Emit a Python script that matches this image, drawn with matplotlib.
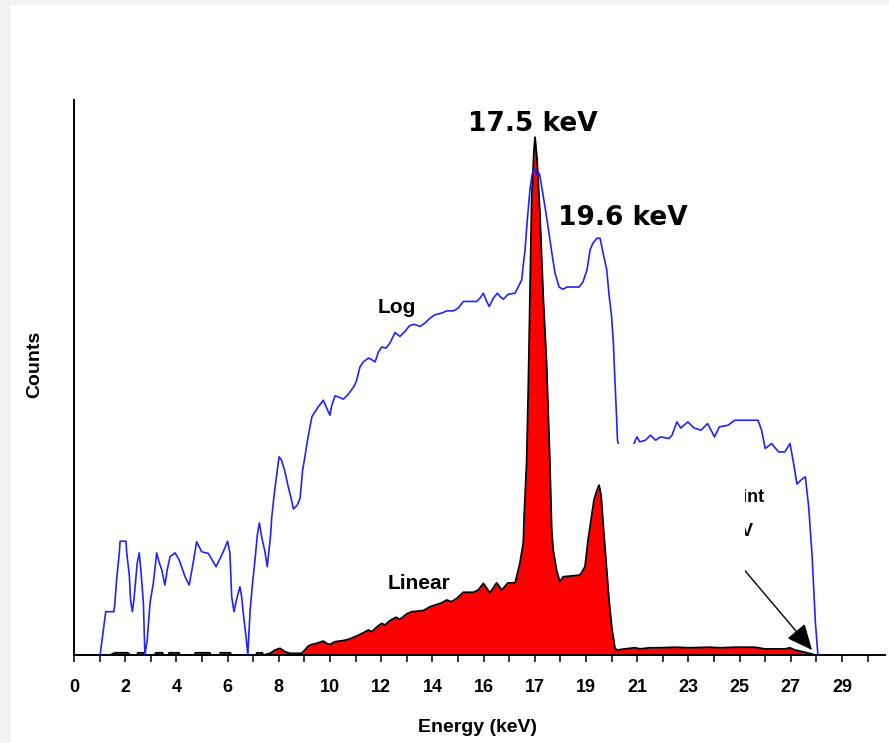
import matplotlib.pyplot as plt
from matplotlib.patches import Rectangle

# channel position on the (non-uniform) energy axis, counts in % of full scale
log_x = [1.02, 1.12, 1.24, 1.56, 1.60, 1.67, 1.77, 1.80, 2.03, 2.06, 2.16, 2.21, 2.28, 2.34,
         2.47, 2.55, 2.62, 2.71, 2.77, 2.86, 2.97, 3.10, 3.23, 3.32, 3.43, 3.55, 3.64, 3.75,
         3.95, 4.11, 4.34, 4.50, 4.64, 4.79, 4.99, 5.25, 5.55, 5.83, 6.00, 6.09, 6.16, 6.25,
         6.36, 6.48, 6.55, 6.61, 6.72, 6.79, 6.88, 6.98, 7.07, 7.16, 7.24, 7.33, 7.46, 7.55,
         7.63, 7.68, 7.72, 7.81, 7.89, 8.01, 8.11, 8.24, 8.37, 8.50, 8.57, 8.72, 8.83, 8.93,
         9.02, 9.11, 9.22, 9.29, 9.41, 9.54, 9.74, 9.87, 10.00, 10.07, 10.20, 10.32, 10.52,
         10.68, 10.78, 10.95, 11.04, 11.17, 11.30, 11.50, 11.60, 11.76, 11.89, 12.02, 12.19,
         12.34, 12.54, 12.73, 12.93, 13.10, 13.28, 13.52, 13.71, 13.91, 14.10, 14.36, 14.56,
         14.82, 15.01, 15.21, 15.73, 15.86, 15.99, 16.12, 16.22, 16.38, 16.54, 16.64, 16.77,
         16.96, 17.23, 17.36, 17.49, 17.55, 17.62, 17.70, 17.81, 17.89, 17.99, 18.09, 18.18,
         18.28, 18.40, 18.52, 18.67, 18.79, 18.95, 19.10, 19.26, 19.73, 19.88, 20.04, 20.16,
         20.27, 20.43, 20.55, 20.66, 20.81, 20.90, 21.00, 21.07, 21.13, 21.20, 21.23, 21.29,
         21.84, 21.90, 21.99, 22.10, 22.32, 22.52, 22.72, 22.91, 23.24, 23.36, 23.55, 23.70,
         23.98, 24.22, 24.49, 24.75, 25.02, 25.21, 25.55, 25.81, 26.72, 26.86, 27.00, 27.25,
         27.52, 27.77, 27.97, 28.11, 28.24, 28.44, 28.57, 28.70, 28.83, 28.96, 29.06]
log_y = [0.0, 3.6, 7.8, 7.8, 9.6, 13.9, 18.4, 20.5, 20.5, 18.4, 14.4, 9.9, 7.8, 9.9,
         16.6, 18.4, 14.8, 9.4, 0.0, 2.7, 9.4, 13.0, 18.4, 16.8, 15.3, 12.6, 15.3, 17.7,
         18.4, 17.1, 14.1, 12.6, 16.2, 20.4, 18.6, 18.3, 15.9, 18.6, 20.5, 18.4, 10.5, 7.8,
         10.2, 12.3, 10.5, 7.6, 3.3, 0.0, 8.1, 13.2, 17.1, 21.6, 23.8, 21.3, 18.6, 15.9,
         19.5, 21.6, 24.6, 28.5, 31.5, 35.7, 35.1, 33.0, 30.3, 27.9, 26.3, 27.0, 28.2, 33.3,
         35.7, 38.4, 41.1, 42.9, 43.8, 44.7, 45.9, 44.5, 43.2, 45.0, 46.7, 46.5, 46.1,
         46.8, 47.4, 48.5, 49.5, 51.9, 52.8, 53.5, 53.3, 52.8, 54.6, 55.5, 55.3,
         56.2, 58.1, 57.4, 58.3, 59.3, 59.6, 59.2, 59.8, 60.7, 61.3, 61.6, 62.0,
         62.0, 62.5, 63.7, 63.7, 64.3, 65.2, 63.7, 62.8, 64.3, 65.2, 64.6, 64.1,
         65.0, 65.2, 66.4, 67.6, 70.3, 73.0, 78.0, 83.8, 86.5, 87.7, 86.5, 86.8,
         84.1, 80.7, 77.1, 72.3, 68.8, 66.3, 65.9, 66.3, 66.3, 67.2, 69.4, 73.0,
         74.2, 75.1, 75.1, 72.6, 69.4, 64.9, 61.0, 56.2, 49.5, 42.3, 38.7, 37.5,
         37.5, 38.4, 39.3, 38.4, 38.7, 39.6, 38.7, 39.3, 39.0, 39.6, 42.0, 40.9,
         42.0, 40.9, 40.5, 41.7, 39.3, 41.1, 41.4, 42.3, 42.3, 40.5, 37.2, 38.1,
         36.6, 36.6, 38.1, 34.5, 30.8, 31.7, 32.1, 26.6, 18.1, 5.9, 0.0]

lin_x = [0.0, 1.41, 1.60, 2.10, 2.20, 2.45, 2.50, 2.70, 2.75, 3.15, 3.20, 3.45, 3.50, 3.68,
         3.72, 4.10, 4.15, 4.70, 4.75, 5.30, 5.35, 5.68, 5.72, 6.10, 6.15, 7.10, 7.15, 7.35,
         7.40, 7.66, 7.85, 8.05, 8.24, 8.44, 8.89, 9.02, 9.15, 9.29, 9.48, 9.74, 9.87, 10.00,
         10.20, 10.52, 10.71, 11.04, 11.30, 11.50, 11.63, 11.82, 12.02, 12.15, 12.34, 12.58,
         12.73, 13.00, 13.19, 13.64, 13.91, 14.17, 14.36, 14.56, 14.75, 14.95, 15.21, 15.60,
         15.79, 15.99, 16.25, 16.51, 16.71, 16.95, 17.23, 17.29, 17.42, 17.55, 17.59, 17.68,
         17.75, 17.81, 17.88, 17.97, 18.01, 18.09, 18.20, 18.33, 18.46, 18.53, 18.59, 18.66,
         18.72, 18.85, 18.98, 19.11, 19.77, 19.96, 20.08, 20.31,
         20.43, 20.51, 20.59, 20.66, 20.78, 20.90, 21.02, 21.13, 21.21, 21.52, 21.91, 22.11,
         22.50, 22.89, 23.48, 24.06, 24.84, 25.23, 25.82, 26.60, 26.99, 27.77, 27.97, 28.16,
         28.55, 28.95]
lin_y = [0.0, 0.0, 0.4, 0.4, 0.0, 0.0, 0.4, 0.4, 0.0, 0.0, 0.4, 0.4, 0.0, 0.0,
         0.4, 0.4, 0.0, 0.0, 0.4, 0.4, 0.0, 0.0, 0.4, 0.4, 0.0, 0.0, 0.4, 0.4,
         0.0, 0.3, 0.9, 1.2, 0.6, 0.3, 0.3, 0.9, 1.6, 1.9, 2.1, 2.5, 2.1, 1.9,
         2.4, 2.6, 2.8, 3.4, 4.0, 4.5, 4.2, 5.0, 5.7, 5.4, 6.2, 6.8,
         6.4, 7.4, 7.8, 8.0, 8.7, 9.1, 9.4, 9.9, 9.6, 10.2, 11.3, 11.3,
         11.7, 12.9, 11.2, 13.0, 11.7, 13.0, 13.0, 14.1, 16.6, 20.2, 25.6, 34.6,
         49.0, 64.5, 82.5, 91.0, 93.3, 89.2, 79.6, 64.5, 52.6, 42.9, 34.6, 22.5,
         18.9, 15.3, 13.2, 14.1, 14.4, 15.9, 20.7, 27.9,
         29.7, 30.6, 28.8, 24.3, 17.1, 9.9, 4.5, 1.3, 0.9, 1.1, 1.3, 1.1,
         1.3, 1.3, 1.4, 1.3, 1.4, 1.3, 1.4, 1.4, 1.1, 1.1, 1.3, 0.9,
         0.5, 0.0]

tick_pos = list(range(0, 32))
tick_labels = ["0", "2", "4", "6", "8", "10", "12", "14", "16", "17", "19", "21", "23", "25", "27", "29"]

fig = plt.figure(figsize=(8.89, 7.43), dpi=100, facecolor="#f2f2f2")
fig.patches.append(Rectangle((10 / 889, 0), 1, 738 / 743, transform=fig.transFigure,
                             facecolor="white", edgecolor="none", zorder=-10))

ax = fig.add_axes([74 / 889, 88 / 743, 811 / 889, 555 / 743])
ax.set_zorder(1)
ax.set_facecolor("none")

ax.fill_between(lin_x, lin_y, 0, color="red", lw=0, zorder=1)
ax.plot(lin_x, lin_y, color="black", lw=1.3, zorder=2)
ax.plot(log_x, log_y, color="#2222ff", lw=1.2, zorder=3)

# callout partly hidden behind a white box
bold = dict(family="Liberation Sans", weight="bold")
ax.text(26.99, 28.3, "Endpoint", ha="right", va="center", fontsize=13, zorder=4, **bold)
ax.text(26.52, 22.2, "28 keV", ha="right", va="center", fontsize=13, zorder=4, **bold)
ax.annotate("", xy=(28.83, 0.9), xytext=(25.2, 20.7), zorder=4,
            arrowprops=dict(arrowstyle="-|>,head_length=1.0,head_width=0.45",
                            mutation_scale=16, color="black", lw=1.0,
                            shrinkA=0, shrinkB=0))
ax.add_patch(Rectangle((21.23, 2.2), 26.21 - 21.23, 38.0 - 2.2,
                       facecolor="white", edgecolor="none", zorder=5))

peak = dict(family="DejaVu Sans", weight="bold", fontsize=19, zorder=6)
ax.text(17.93, 95.7, "17.5 keV", ha="center", va="center", **peak)
ax.text(21.44, 78.7, "19.6 keV", ha="center", va="center", **peak)
ax.text(12.62, 62.6, "Log", ha="center", va="center", fontsize=15, zorder=6, **bold)
ax.text(13.48, 12.9, "Linear", ha="center", va="center", fontsize=15, zorder=6, **bold)

ax.set_xlim(0, 31.68)
ax.set_ylim(0, 100)
ax.set_xticks(tick_pos)
ax.set_xticklabels([tick_labels[i // 2] if i % 2 == 0 and i // 2 < len(tick_labels) else ""
                    for i in tick_pos])
ax.set_yticks([])
for lab in ax.get_xticklabels():
    lab.set_fontfamily("Liberation Sans")
    lab.set_fontweight("bold")
    lab.set_fontsize(13)
ax.tick_params(axis="x", direction="out", length=5, width=1.1, pad=12)
for side in ["top", "right"]:
    ax.spines[side].set_visible(False)
ax.spines["left"].set_linewidth(1.4)
ax.spines["bottom"].set_linewidth(1.4)

fig.text(478 / 889, 1 - 727 / 743, "Energy (keV)", ha="center", va="center", fontsize=14, **bold)
fig.text(35 / 889, 1 - 364 / 743, "Counts", ha="center", va="center", rotation=90,
         fontsize=14, **bold)

fig.savefig("out.png", dpi=100, facecolor=fig.get_facecolor())
